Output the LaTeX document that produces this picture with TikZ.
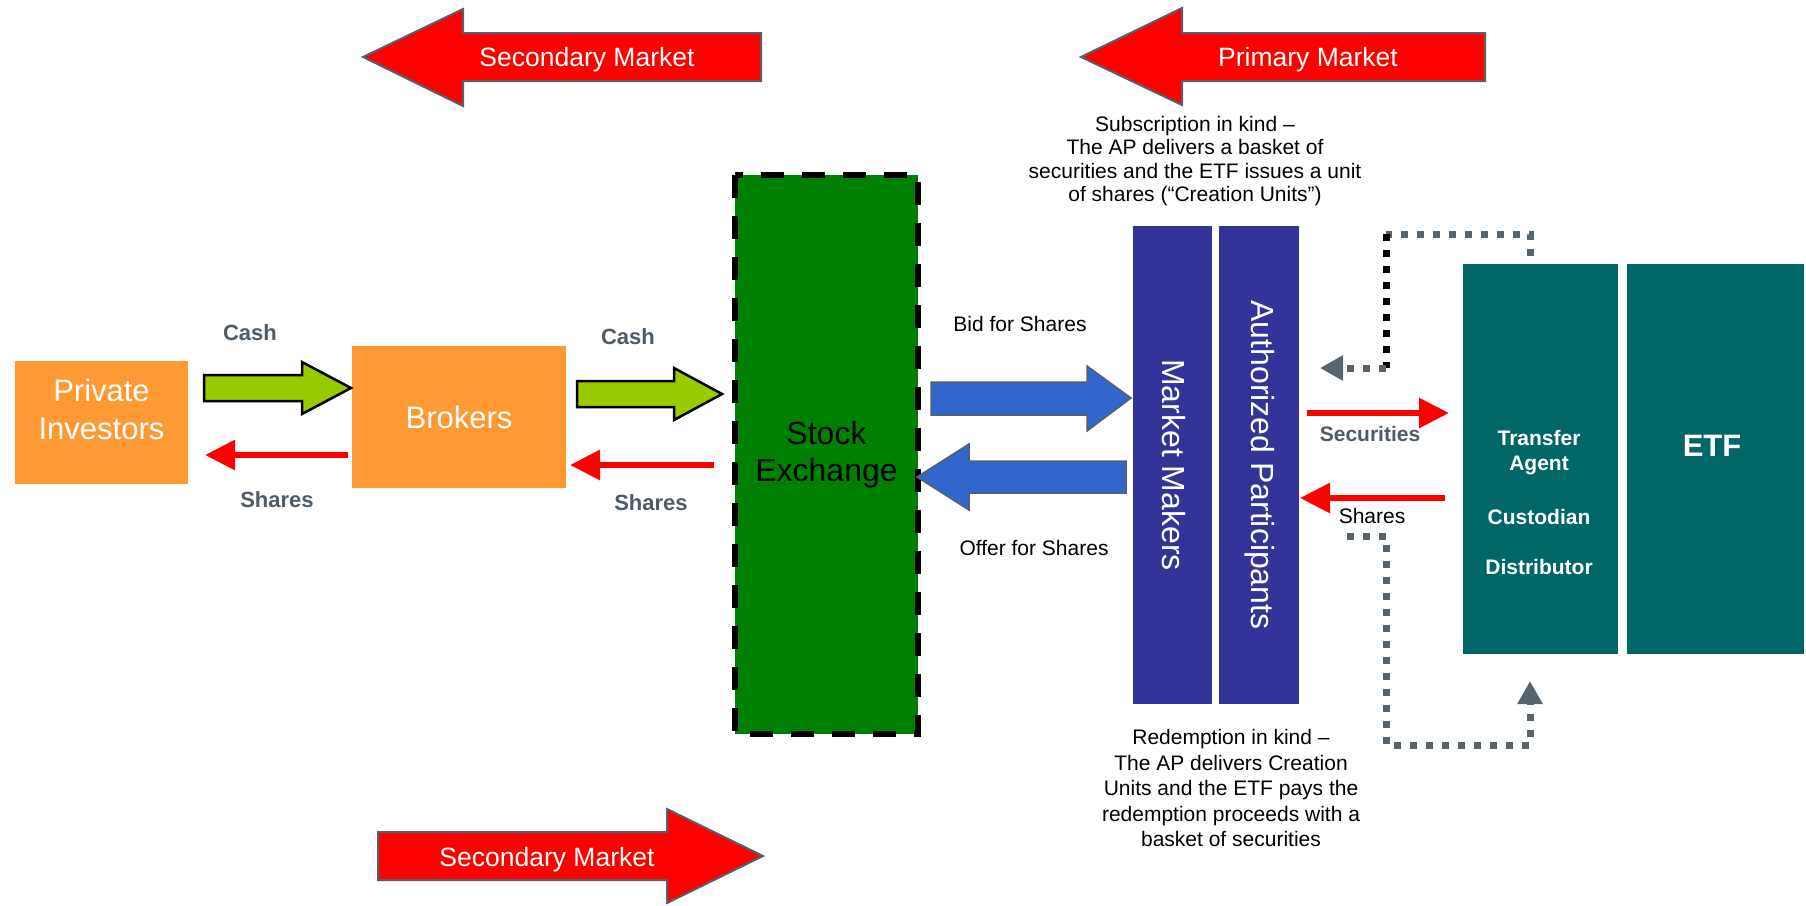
\documentclass[tikz,border=0pt]{standalone}
\usepackage{fontspec}
\setmainfont{Liberation Sans}
\usetikzlibrary{arrows.meta}
\definecolor{orangebox}{HTML}{FF9933}
\definecolor{exgreen}{HTML}{008000}
\definecolor{indigobox}{HTML}{333399}
\definecolor{tealbox}{HTML}{006666}
\definecolor{slate}{HTML}{4F5B66}
\definecolor{dotgray}{HTML}{56646F}
\definecolor{cashgreen}{HTML}{99CC00}
\definecolor{bidblue}{HTML}{3366CC}
\definecolor{outlinegray}{HTML}{56606B}
\newcommand\setfs[2]{\fontsize{#1}{#2}\selectfont}
\begin{document}
\begin{tikzpicture}[x=1pt,y=-1pt,
  box/.style={inner sep=0pt, outer sep=0pt, anchor=center, draw=none},
  txt/.style={inner sep=0pt, outer sep=0pt, anchor=center, align=center},
  marketarrow/.style={fill=red, draw=outlinegray, line width=2pt, line join=miter},
  marketlabel/.style={txt, text=white, font=\setfs{26.5}{30}},
  casharrow/.style={fill=cashgreen, draw=black, line width=2.5pt, line join=miter},
  bluearrow/.style={fill=bidblue, draw=outlinegray, line width=1.5pt, line join=miter},
  redarrow/.style={draw=red, line width=6pt, -{Triangle[length=30pt,width=29pt]}},
  flowlabel/.style={txt, text=slate, font=\bfseries\setfs{22}{26}},
  smalltext/.style={txt, text=black, font=\setfs{21}{23.5}},
  dotline/.style={line width=7pt, dash pattern=on 7pt off 9pt},
  dottip/.style={-{Triangle[length=23pt,width=24pt]}},
  boxtext/.style={txt, text=white, font=\setfs{31}{38}},
  tatext/.style={txt, text=white, font=\bfseries\setfs{21}{25}}]
\useasboundingbox (0,0) rectangle (1806,905);

% market arrows
\draw[marketarrow] (761,33) -- (463,33) -- (463,9) -- (363,57) -- (463,106) -- (463,81) -- (761,81) -- cycle;
\node[marketlabel] (sectop) at (587,60) {Secondary Market};
\draw[marketarrow] (1485,33) -- (1182,33) -- (1182,8) -- (1081,57) -- (1182,105) -- (1182,81) -- (1485,81) -- cycle;
\node[marketlabel] (primtop) at (1308,60) {Primary Market};
\draw[marketarrow] (378,832) -- (667,832) -- (667,809) -- (763,856) -- (667,903) -- (667,880) -- (378,880) -- cycle;
\node[marketlabel] (secbot) at (547,860) {Secondary Market};

% boxes
\node[box, fill=orangebox, minimum width=173pt, minimum height=123pt] (pi) at (101.5,422.5) {};
\node[boxtext] (pitext) at (101.5,409) {Private\\Investors};
\node[box, fill=orangebox, minimum width=214pt, minimum height=142pt, text=white, font=\setfs{31}{38}] (brokers) at (459,417) {Brokers};
\node[box, fill=exgreen, minimum width=183pt, minimum height=559pt, align=center, font=\setfs{32}{37}] (sx) at (826.5,454.5) {Stock\\Exchange};
\draw[line width=6pt, dash pattern=on 23pt off 18pt] (sx.north west) rectangle (sx.south east);
\node[box, fill=indigobox, minimum width=79pt, minimum height=478pt] (mm) at (1172.5,465) {};
\node[box, fill=indigobox, minimum width=80pt, minimum height=478pt] (ap) at (1259,465) {};
\node[boxtext, rotate=-90, font=\setfs{32}{38}] (mmtext) at (1174,465) {Market Makers};
\node[boxtext, rotate=-90, font=\setfs{32}{38}] (aptext) at (1260,465) {Authorized Participants};
\node[box, fill=tealbox, minimum width=155pt, minimum height=390pt] (ta) at (1540.5,459) {};
\node[box, fill=tealbox, minimum width=177pt, minimum height=390pt] (etf) at (1715.5,459) {};
\node[tatext] (tatxt) at (1539,452.5) {Transfer\\Agent};
\node[tatext] (custxt) at (1539,517) {Custodian};
\node[tatext] (distxt) at (1539,567) {Distributor};
\node[txt, text=white, font=\bfseries\setfs{31}{36}] (etftxt) at (1712,446) {ETF};

% cash block arrows
\draw[casharrow] (204,375) -- (302,375) -- (302,362) -- (351,388) -- (302,414) -- (302,401) -- (204,401) -- cycle;
\draw[casharrow] (577,381) -- (674,381) -- (674,368) -- (722,394) -- (674,420) -- (674,407) -- (577,407) -- cycle;
\node[flowlabel] (cash1) at (250,333) {Cash};
\node[flowlabel] (cash2) at (628,337) {Cash};

% shares thin arrows
\coordinate (s1a) at (348,455);
\coordinate (s1b) at (205,455);
\coordinate (s2a) at (714,465);
\coordinate (s2b) at (570,465);
\draw[redarrow] (s1a) -- (s1b);
\draw[redarrow] (s2a) -- (s2b);
\node[flowlabel] (shares1) at (277,500) {Shares};
\node[flowlabel] (shares2) at (651,503) {Shares};

% bid / offer
\draw[bluearrow] (931,382) -- (1087,382) -- (1087,366) -- (1131,398) -- (1087,431) -- (1087,415) -- (931,415) -- cycle;
\draw[bluearrow] (1126,461) -- (969,461) -- (969,444) -- (917,477) -- (969,510) -- (969,493) -- (1126,493) -- cycle;
\node[smalltext] (bid) at (1020,324) {Bid for Shares};
\node[smalltext] (offer) at (1034,548) {Offer for Shares};

% subscription / redemption
\node[smalltext] (subs) at (1195,161) {Subscription in kind --\\The AP delivers a basket of\\securities and the ETF issues a unit\\of shares (“Creation Units”)};
\node[smalltext, font=\setfs{21}{25.5}] (redm) at (1231,788) {Redemption in kind --\\The AP delivers Creation\\Units and the ETF pays the\\redemption proceeds with a\\basket of securities};

% securities / shares between AP and TA
\coordinate (seca) at (1307,413);
\coordinate (secb) at (1449,413);
\coordinate (sh3a) at (1445,498);
\coordinate (sh3b) at (1300,498);
\draw[redarrow] (seca) -- (secb);
\draw[redarrow] (sh3a) -- (sh3b);
\node[flowlabel, font=\bfseries\setfs{21}{25}] (seclbl) at (1370,434) {Securities};
\node[smalltext] (sh3lbl) at (1372,516) {Shares};

% dotted loops
\coordinate (d1) at (1530,256);
\coordinate (d2) at (1530,234);
\coordinate (d3) at (1386,234);
\coordinate (d4) at (1386,368);
\coordinate (d5) at (1320,368);
\draw[dotline, dotgray] (d1) -- (d2) -- (d3);
\draw[dotline, black] (d3) -- (d4);
\draw[dotline, dotgray, dottip] (d4) -- (d5);
\coordinate (e1) at (1347,536);
\coordinate (e2) at (1386,536);
\coordinate (e3) at (1386,745);
\coordinate (e4) at (1530,745);
\coordinate (e5) at (1530,681);
\draw[dotline, dotgray, dottip] (e1) -- (e2) -- (e3) -- (e4) -- (e5);
\end{tikzpicture}
\end{document}
